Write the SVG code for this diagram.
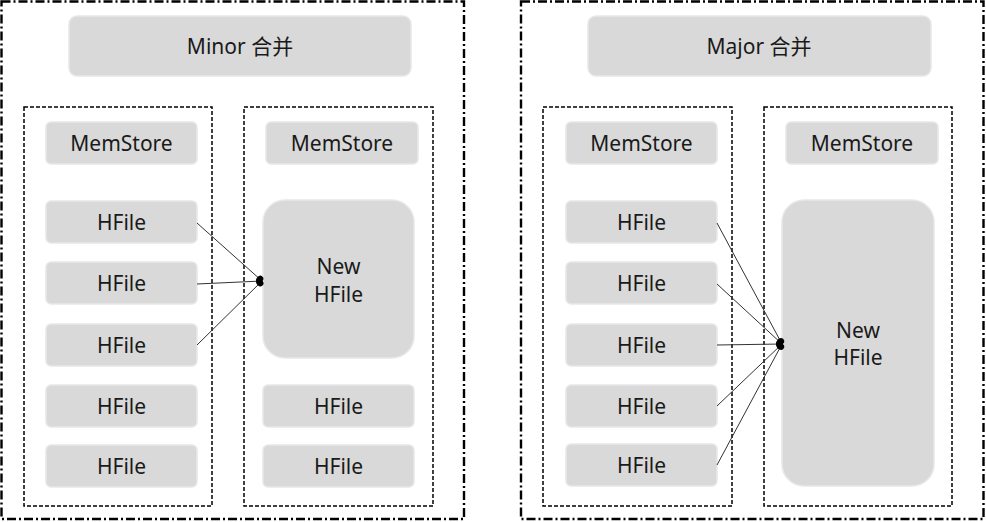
<svg xmlns="http://www.w3.org/2000/svg" width="986" height="522" viewBox="0 0 986 522">
<defs>
<style>
.outer{fill:none;stroke:#000;stroke-width:2.4;stroke-dasharray:9 3 2 3}
.inner{fill:none;stroke:#000;stroke-width:1.5;stroke-dasharray:4 2}
.box{fill:#d9d9d9;stroke:#e8e8e8;stroke-width:1.5}
.t{font-family:"Noto Sans","Noto Sans CJK SC",sans-serif;font-size:21px;fill:#1a1a1a;text-anchor:middle;dominant-baseline:central}
.c{fill:none;stroke:#333;stroke-width:1}
</style>
<marker id="dot" viewBox="0 0 10 10" refX="9" refY="5" markerWidth="8" markerHeight="8" markerUnits="userSpaceOnUse" orient="auto">
<ellipse cx="5.5" cy="5" rx="4" ry="4.5" fill="#000"/>
</marker>
</defs>
<rect width="986" height="522" fill="#fff"/>
<g id="minor-panel">
<rect class="outer" x="1.5" y="1.5" width="462.5" height="517.5"/>
<rect class="inner" x="24" y="107" width="188" height="399"/>
<rect class="inner" x="244" y="107" width="189" height="399"/>
</g>
<g id="major-panel">
<rect class="outer" x="521" y="1.5" width="462.5" height="517.5"/>
<rect class="inner" x="543" y="107" width="189" height="399"/>
<rect class="inner" x="764" y="107" width="188" height="399"/>
</g>
<g id="minor-title"><rect class="box" x="69" y="16" width="342" height="60" rx="8"/><text class="t" x="240" y="46">Minor 合并</text></g>
<g id="major-title"><rect class="box" x="588" y="16" width="343" height="60" rx="8"/><text class="t" x="759" y="46">Major 合并</text></g>

<g id="m-memstore1"><rect class="box" x="46" y="122" width="151" height="42" rx="5"/><text class="t" x="121.5" y="143">MemStore</text></g>
<g id="m-memstore2"><rect class="box" x="266" y="122" width="152" height="42" rx="5"/><text class="t" x="342" y="143">MemStore</text></g>
<g id="m-hfile1"><rect class="box" x="46" y="201" width="151" height="42" rx="5"/><text class="t" x="121.5" y="222">HFile</text></g>
<g id="m-hfile2"><rect class="box" x="46" y="262" width="151" height="42" rx="5"/><text class="t" x="121.5" y="283">HFile</text></g>
<g id="m-hfile3"><rect class="box" x="46" y="324" width="151" height="42" rx="5"/><text class="t" x="121.5" y="345">HFile</text></g>
<g id="m-hfile4"><rect class="box" x="46" y="385" width="151" height="42" rx="5"/><text class="t" x="121.5" y="406">HFile</text></g>
<g id="m-hfile5"><rect class="box" x="46" y="445" width="151" height="42" rx="5"/><text class="t" x="121.5" y="466">HFile</text></g>
<g id="m-newhfile"><rect class="box" x="263" y="200" width="151" height="158" rx="22"/><text class="t" x="338.5" y="266">New</text><text class="t" x="338.5" y="294">HFile</text></g>
<g id="m-hfile6"><rect class="box" x="263" y="385" width="151" height="42" rx="5"/><text class="t" x="338.5" y="406">HFile</text></g>
<g id="m-hfile7"><rect class="box" x="263" y="445" width="151" height="42" rx="5"/><text class="t" x="338.5" y="466">HFile</text></g>

<g id="j-memstore1"><rect class="box" x="566" y="122" width="151" height="42" rx="5"/><text class="t" x="641.5" y="143">MemStore</text></g>
<g id="j-memstore2"><rect class="box" x="786" y="122" width="152" height="42" rx="5"/><text class="t" x="862" y="143">MemStore</text></g>
<g id="j-hfile1"><rect class="box" x="566" y="201" width="151" height="42" rx="5"/><text class="t" x="641.5" y="222">HFile</text></g>
<g id="j-hfile2"><rect class="box" x="566" y="262" width="151" height="42" rx="5"/><text class="t" x="641.5" y="283">HFile</text></g>
<g id="j-hfile3"><rect class="box" x="566" y="324" width="151" height="42" rx="5"/><text class="t" x="641.5" y="345">HFile</text></g>
<g id="j-hfile4"><rect class="box" x="566" y="385" width="151" height="42" rx="5"/><text class="t" x="641.5" y="406">HFile</text></g>
<g id="j-hfile5"><rect class="box" x="566" y="444" width="151" height="42" rx="5"/><text class="t" x="641.5" y="465">HFile</text></g>
<g id="j-newhfile"><rect class="box" x="782" y="200" width="152" height="286" rx="22"/><text class="t" x="858" y="330">New</text><text class="t" x="858" y="357">HFile</text></g>

<g id="connectors">
<line class="c" x1="197" y1="223" x2="262" y2="281" marker-end="url(#dot)"/>
<line class="c" x1="197" y1="284" x2="262" y2="281" marker-end="url(#dot)"/>
<line class="c" x1="197" y1="345" x2="262" y2="281" marker-end="url(#dot)"/>
<line class="c" x1="717" y1="223" x2="782" y2="344" marker-end="url(#dot)"/>
<line class="c" x1="717" y1="284" x2="782" y2="344" marker-end="url(#dot)"/>
<line class="c" x1="717" y1="345" x2="782" y2="344" marker-end="url(#dot)"/>
<line class="c" x1="717" y1="406" x2="782" y2="344" marker-end="url(#dot)"/>
<line class="c" x1="717" y1="465" x2="782" y2="344" marker-end="url(#dot)"/>
</g>
</svg>
